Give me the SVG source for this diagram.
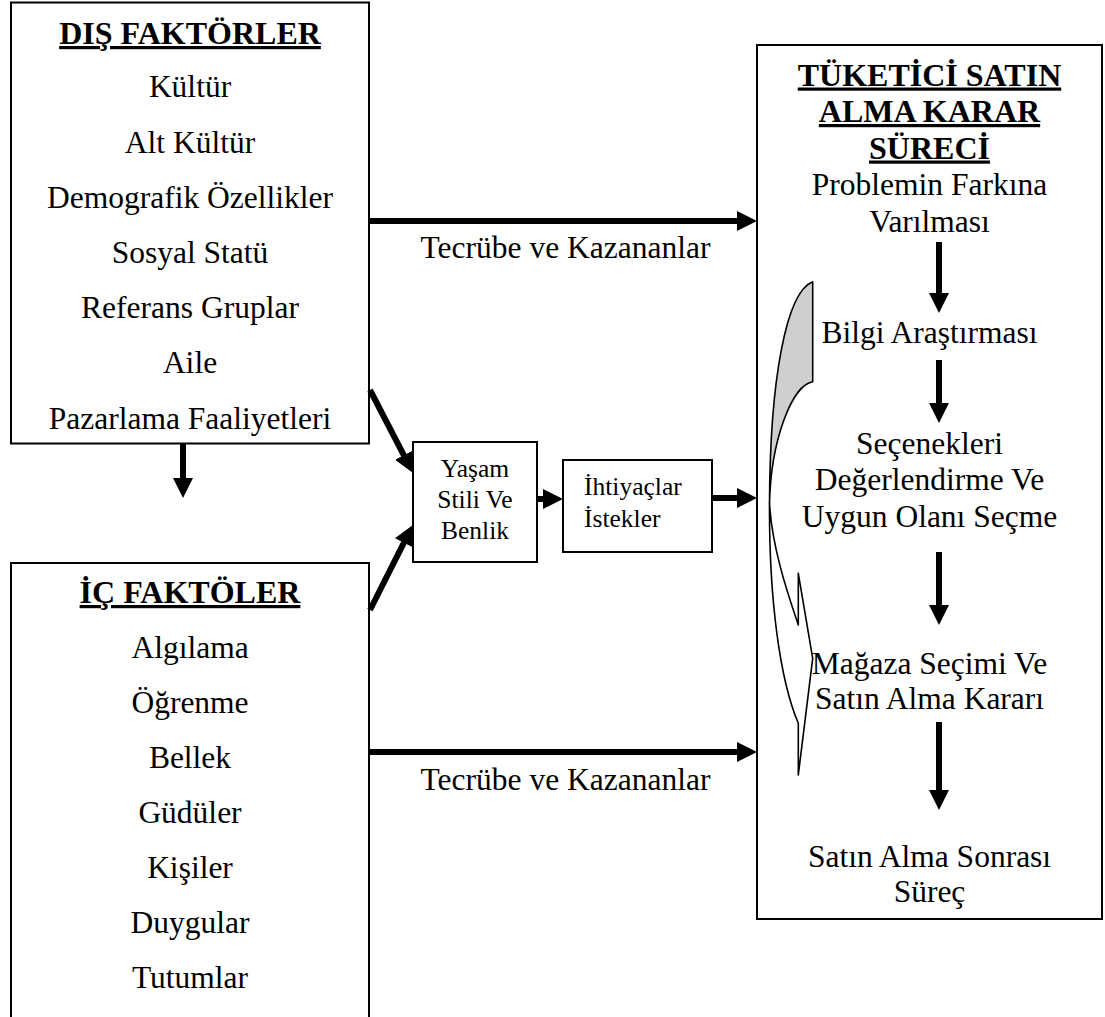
<svg xmlns="http://www.w3.org/2000/svg" width="1105" height="1017" viewBox="0 0 1105 1017">
<style>
.box{fill:#fff;stroke:#000;stroke-width:2}
.t{font-family:'Liberation Serif','DejaVu Serif',serif;font-size:31.5px;fill:#000;text-anchor:middle}
.h{font-family:'Liberation Serif','DejaVu Serif',serif;font-size:32px;font-weight:bold;fill:#000;text-anchor:middle;text-decoration:underline}
.s{font-family:'Liberation Serif','DejaVu Serif',serif;font-size:25.5px;fill:#000}
.c{stroke:#000;stroke-width:6;fill:none;marker-end:url(#ah)}
</style>
<defs>
<marker id="ah" markerUnits="userSpaceOnUse" markerWidth="20" markerHeight="20" refX="1" refY="10" orient="auto">
<path d="M0,0 L20,10 L0,20 Z" fill="#000"/>
</marker>
</defs>
<rect width="1105" height="1017" fill="#fff"/>

<g id="dis-faktorler">
<rect class="box" x="11" y="2.5" width="358" height="441"/>
<text class="h" x="190" y="44">DIŞ FAKTÖRLER</text>
<text class="t" x="190" y="97.4">Kültür</text>
<text class="t" x="190" y="152.6">Alt Kültür</text>
<text class="t" x="190" y="207.8">Demografik Özellikler</text>
<text class="t" x="190" y="263">Sosyal Statü</text>
<text class="t" x="190" y="318.2">Referans Gruplar</text>
<text class="t" x="190" y="373.4">Aile</text>
<text class="t" x="190" y="428.6">Pazarlama Faaliyetleri</text>
</g>

<g id="ic-faktorler">
<rect class="box" x="11" y="563" width="358" height="470"/>
<text class="h" x="190" y="603">İÇ FAKTÖLER</text>
<text class="t" x="190" y="658">Algılama</text>
<text class="t" x="190" y="713">Öğrenme</text>
<text class="t" x="190" y="768">Bellek</text>
<text class="t" x="190" y="823">Güdüler</text>
<text class="t" x="190" y="878">Kişiler</text>
<text class="t" x="190" y="933">Duygular</text>
<text class="t" x="190" y="988">Tutumlar</text>
</g>

<g id="yasam-stili">
<rect class="box" x="413" y="442" width="124" height="120"/>
<text class="s" x="475" y="477" text-anchor="middle">Yaşam</text>
<text class="s" x="475" y="508" text-anchor="middle">Stili Ve</text>
<text class="s" x="475" y="538.5" text-anchor="middle">Benlik</text>
</g>

<g id="ihtiyaclar">
<rect class="box" x="563" y="460" width="149" height="92"/>
<text class="s" x="584" y="495">İhtiyaçlar</text>
<text class="s" x="584" y="527">İstekler</text>
</g>

<g id="karar-sureci">
<rect class="box" x="757" y="45" width="345" height="874"/>
<path d="M812.7,281.7 C786,292 770,380 769.5,503 C771,440 792,385 812.7,381.7 Z" fill="#cfcfcf" stroke="#000" stroke-width="1.6" stroke-linejoin="round"/>
<path d="M769.5,503 C769,600 780,680 798.3,723.3 L798.3,775 L812.7,658.3 L798.3,573.3 L798.3,625 C790,600 772,550 769.5,503 Z" fill="#fff" stroke="#000" stroke-width="1.6" stroke-linejoin="round"/>
<text class="h" x="929.5" y="85.5">TÜKETİCİ SATIN</text>
<text class="h" x="929.5" y="122">ALMA KARAR</text>
<text class="h" x="929.5" y="158.5">SÜRECİ</text>
<text class="t" x="929.5" y="195">Problemin Farkına</text>
<text class="t" x="929.5" y="231.5">Varılması</text>
<text class="t" x="929.5" y="342.7">Bilgi Araştırması</text>
<text class="t" x="929.5" y="454">Seçenekleri</text>
<text class="t" x="929.5" y="490">Değerlendirme Ve</text>
<text class="t" x="929.5" y="526.7">Uygun Olanı Seçme</text>
<text class="t" x="929.5" y="674">Mağaza Seçimi Ve</text>
<text class="t" x="929.5" y="709">Satın Alma Kararı</text>
<text class="t" x="929.5" y="866.5">Satın Alma Sonrası</text>
<text class="t" x="929.5" y="902">Süreç</text>
</g>

<g id="connectors">
<line class="c" x1="370" y1="221" x2="738" y2="221"/>
<text class="t" x="565.5" y="258">Tecrübe ve Kazananlar</text>
<line class="c" x1="370" y1="752" x2="738" y2="752"/>
<text class="t" x="565.5" y="790">Tecrübe ve Kazananlar</text>
<line class="c" x1="183" y1="443" x2="183" y2="479"/>
<line class="c" x1="370" y1="390" x2="404.3" y2="456.1"/>
<line class="c" x1="370" y1="610" x2="404.3" y2="541.9"/>
<line class="c" x1="537" y1="499" x2="544" y2="499"/>
<line class="c" x1="712" y1="498" x2="738" y2="498"/>
<line class="c" x1="939" y1="242" x2="939" y2="294"/>
<line class="c" x1="939" y1="360" x2="939" y2="404"/>
<line class="c" x1="939" y1="552" x2="939" y2="606"/>
<line class="c" x1="939" y1="722" x2="939" y2="791"/>
</g>
</svg>
